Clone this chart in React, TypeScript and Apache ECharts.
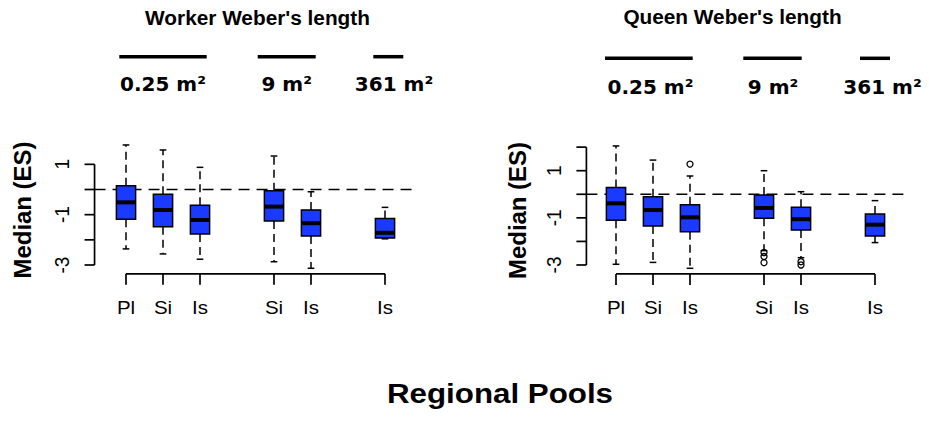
import React, { useEffect, useRef } from 'react';
import * as echarts from 'echarts';

// ---------- data ----------
const positions = [1, 2, 3, 5, 6, 8];
const categoryLabels = ['Pl', 'Si', 'Is', 'Si', 'Is', 'Is'];
// [lower whisker, Q1, median, Q3, upper whisker]
const workerBoxes = [
  [-2.36, -1.185, -0.51, 0.15, 1.77],
  [-2.56, -1.48, -0.815, -0.19, 1.57],
  [-2.77, -1.77, -1.21, -0.63, 0.88],
  [-2.87, -1.25, -0.68, -0.05, 1.33],
  [-3.13, -1.85, -1.34, -0.81, -0.09],
  [-1.96, -1.93, -1.72, -1.15, -0.71],
];
const queenBoxes = [
  [-2.97, -1.1, -0.385, 0.29, 2.05],
  [-2.89, -1.35, -0.67, -0.1, 1.45],
  [-3.14, -1.59, -0.98, -0.44, 0.775],
  [-2.39, -1.02, -0.58, -0.03, 1.0],
  [-2.69, -1.52, -1.06, -0.555, 0.11],
  [-2.05, -1.77, -1.29, -0.84, -0.27],
];
const workerOutliers: number[][] = [];
const queenOutliers = [
  [3, 1.28],
  [5, -2.47],
  [5, -2.64],
  [5, -2.9],
  [6, -2.86],
  [6, -3.0],
];
const workerYTicks = [-3, -2, -1, 0, 1];
const queenYTicks = [-3, -2, -1, 0, 1, 2];
const yTickLabels = [-3, -1, 1];
const areaLabels = ['0.25 m²', '9 m²', '361 m²'];
const panelTitles = ["Worker Weber's length", "Queen Weber's length"];
const yAxisTitle = 'Median (ES)';
const xAxisTitle = 'Regional Pools';

// ---------- layout / style ----------
const BLUE = '#1a3bff';
const RFONT = '"Liberation Sans", Arial, Helvetica, sans-serif';
const AFONT = '"DejaVu Sans", Verdana, sans-serif';
const BOX_HALF = 0.26;
const CAP_HALF = 0.09;

const layouts = [
  {
    left: 94.55, top: 139.16, width: 321.9, height: 134.66,
    xMin: 0.15, xMax: 8.85, yMin: -3.35, yMax: 2.0,
    titleX: 257.5, titleY: 18.5,
    bars: [[119.3, 206.7], [257.7, 315.7], [373.3, 403.3]], barY: 56.7,
    areaX: [163, 286.7, 394], areaY: 84,
    ylabX: 23, ylabY: 210,
  },
  {
    left: 586.4, top: 140.05, width: 320.05, height: 133.9,
    xMin: 0.2, xMax: 8.85, yMin: -3.38, yMax: 2.3,
    titleX: 732.5, titleY: 17.5,
    bars: [[605, 692.7], [743.3, 801.7], [860, 890]], barY: 58.3,
    areaX: [650.5, 773, 882.5], areaY: 87,
    ylabX: 518, ylabY: 210.5,
  },
];

function buildOption() {
  const grid: any[] = [];
  const xAxis: any[] = [];
  const yAxis: any[] = [];
  const series: any[] = [];
  const graphic: any[] = [];

  const panelData = [
    { boxes: workerBoxes, outliers: workerOutliers, yTicks: workerYTicks },
    { boxes: queenBoxes, outliers: queenOutliers, yTicks: queenYTicks },
  ];

  panelData.forEach((pd, i) => {
    const L = layouts[i];
    grid.push({ left: L.left, top: L.top, width: L.width, height: L.height, containLabel: false });
    xAxis.push({ type: 'value', gridIndex: i, min: L.xMin, max: L.xMax, show: false });
    yAxis.push({ type: 'value', gridIndex: i, min: L.yMin, max: L.yMax, show: false });

    const segSeries = (name: string, data: number[][], style: any) => ({
      type: 'custom',
      name,
      xAxisIndex: i,
      yAxisIndex: i,
      silent: true,
      clip: false,
      data,
      encode: { x: [0, 2], y: [1, 3] },
      renderItem: (_p: any, api: any) => {
        const a = api.coord([api.value(0), api.value(1)]);
        const b = api.coord([api.value(2), api.value(3)]);
        return {
          type: 'line',
          shape: { x1: a[0], y1: a[1], x2: b[0], y2: b[1] },
          style: { stroke: '#000', fill: null, ...style },
        };
      },
    });

    // zero reference line
    series.push(segSeries('zero', [[L.xMin, 0, L.xMax, 0]], { lineWidth: 1.6, lineDash: [11, 7] }));
    // y axis line
    series.push(segSeries('yaxis', [[L.xMin, Math.min(...pd.yTicks), L.xMin, Math.max(...pd.yTicks)]], { lineWidth: 1.7 }));
    // x axis line
    series.push(segSeries('xaxis', [[positions[0], L.yMin, positions[positions.length - 1], L.yMin]], { lineWidth: 1.7 }));

    // y ticks and labels
    series.push({
      type: 'custom',
      xAxisIndex: i,
      yAxisIndex: i,
      silent: true,
      clip: false,
      data: pd.yTicks.map((v) => [L.xMin, v]),
      renderItem: (_p: any, api: any) => {
        const v = api.value(1);
        const p = api.coord([api.value(0), v]);
        const children: any[] = [
          { type: 'line', shape: { x1: p[0], y1: p[1], x2: p[0] - 10, y2: p[1] }, style: { stroke: '#000', lineWidth: 1.7 } },
        ];
        if (yTickLabels.indexOf(v) >= 0) {
          children.push({
            type: 'text',
            x: p[0] - 32.5,
            y: p[1],
            rotation: Math.PI / 2,
            scaleY: 1.1,
            style: { text: String(v), fill: '#000', fontSize: 19, fontFamily: RFONT, align: 'center', verticalAlign: 'middle' },
          });
        }
        return { type: 'group', children };
      },
    });

    // x ticks and labels
    series.push({
      type: 'custom',
      xAxisIndex: i,
      yAxisIndex: i,
      silent: true,
      clip: false,
      data: positions.map((x, k) => [x, L.yMin, k]),
      renderItem: (_p: any, api: any) => {
        const p = api.coord([api.value(0), api.value(1)]);
        const k = api.value(2);
        return {
          type: 'group',
          children: [
            { type: 'line', shape: { x1: p[0], y1: p[1], x2: p[0], y2: p[1] + 11 }, style: { stroke: '#000', lineWidth: 1.7 } },
            {
              type: 'text',
              x: p[0],
              y: p[1] + 33,
              scaleX: 1.08,
              style: { text: categoryLabels[k], fill: '#000', fontSize: 19, fontFamily: RFONT, align: 'center', verticalAlign: 'middle' },
            },
          ],
        };
      },
    });

    // boxplots
    series.push({
      type: 'custom',
      name: panelTitles[i],
      xAxisIndex: i,
      yAxisIndex: i,
      clip: false,
      data: positions.map((x, k) => [x, ...pd.boxes[k]]),
      encode: { x: 0, y: [1, 2, 3, 4, 5] },
      renderItem: (_p: any, api: any) => {
        const x = api.value(0);
        const lo = api.value(1), q1 = api.value(2), md = api.value(3), q3 = api.value(4), hi = api.value(5);
        const c = (xx: number, yy: number) => api.coord([xx, yy]);
        const pHi = c(x, hi), pQ3 = c(x, q3), pQ1 = c(x, q1), pLo = c(x, lo);
        const capL = c(x - CAP_HALF, hi), capR = c(x + CAP_HALF, hi);
        const capL2 = c(x - CAP_HALF, lo), capR2 = c(x + CAP_HALF, lo);
        const tl = c(x - BOX_HALF, q3), br = c(x + BOX_HALF, q1);
        const mL = c(x - BOX_HALF, md), mR = c(x + BOX_HALF, md);
        const wStyle = { stroke: '#000', lineWidth: 1.5, lineDash: [8, 5] };
        const sStyle = { stroke: '#000', lineWidth: 1.5 };
        return {
          type: 'group',
          children: [
            { type: 'line', shape: { x1: pQ3[0], y1: pQ3[1], x2: pHi[0], y2: pHi[1] }, style: wStyle },
            { type: 'line', shape: { x1: pQ1[0], y1: pQ1[1], x2: pLo[0], y2: pLo[1] }, style: wStyle },
            { type: 'line', shape: { x1: capL[0], y1: capL[1], x2: capR[0], y2: capR[1] }, style: sStyle },
            { type: 'line', shape: { x1: capL2[0], y1: capL2[1], x2: capR2[0], y2: capR2[1] }, style: sStyle },
            {
              type: 'rect',
              shape: { x: tl[0], y: tl[1], width: br[0] - tl[0], height: br[1] - tl[1] },
              style: { fill: BLUE, stroke: '#000', lineWidth: 1.5 },
            },
            { type: 'line', shape: { x1: mL[0], y1: mL[1], x2: mR[0], y2: mR[1] }, style: { stroke: '#000', lineWidth: 4 } },
          ],
        };
      },
    });

    // outliers
    series.push({
      type: 'scatter',
      xAxisIndex: i,
      yAxisIndex: i,
      silent: true,
      symbol: 'circle',
      symbolSize: 6,
      data: pd.outliers,
      itemStyle: { color: 'rgba(0,0,0,0)', borderColor: '#000', borderWidth: 1.3, opacity: 1 },
    });

    // titles and scale bars
    graphic.push({
      type: 'text',
      x: L.titleX,
      y: L.titleY,
      scaleX: 1.04,
      style: { text: panelTitles[i], fill: '#000', fontSize: 20, fontWeight: 'bold', fontFamily: RFONT, align: 'center', verticalAlign: 'middle' },
    });
    L.bars.forEach((b, k) => {
      graphic.push({
        type: 'line',
        shape: { x1: b[0], y1: L.barY, x2: b[1], y2: L.barY },
        style: { stroke: '#000', lineWidth: 3.5 },
      });
      graphic.push({
        type: 'text',
        x: L.areaX[k],
        y: L.areaY,
        style: { text: areaLabels[k], fill: '#000', fontSize: 20, fontWeight: 'bold', fontFamily: AFONT, align: 'center', verticalAlign: 'middle' },
      });
    });
    graphic.push({
      type: 'text',
      x: L.ylabX,
      y: L.ylabY,
      rotation: Math.PI / 2,
      scaleX: 1.14,
      scaleY: 1.12,
      style: { text: yAxisTitle, fill: '#000', fontSize: 21, fontWeight: 'bold', fontFamily: RFONT, align: 'center', verticalAlign: 'middle' },
    });
  });

  graphic.push({
    type: 'text',
    x: 500,
    y: 394,
    scaleX: 1.16,
    style: { text: xAxisTitle, fill: '#000', fontSize: 27, fontWeight: 'bold', fontFamily: RFONT, align: 'center', verticalAlign: 'middle' },
  });

  return {
    animation: false,
    backgroundColor: '#fff',
    grid,
    xAxis,
    yAxis,
    series,
    graphic,
  };
}

export default function App() {
  const ref = useRef<HTMLDivElement>(null);
  useEffect(() => {
    document.body.style.margin = '0';
    const chart = echarts.init(ref.current!, null, { renderer: 'svg' });
    chart.setOption(buildOption() as any);
    return () => chart.dispose();
  }, []);
  return <div ref={ref} style={{ width: 929, height: 421 }} />;
}
